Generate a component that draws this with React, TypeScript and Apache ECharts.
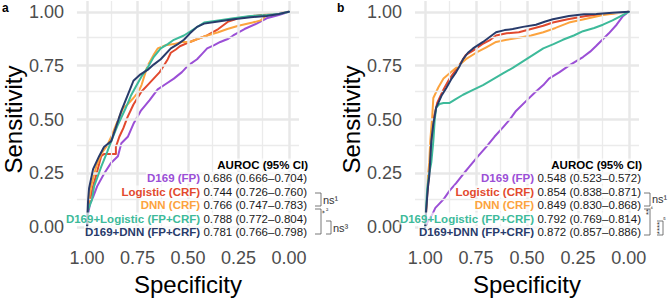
import React, { useEffect, useRef } from "react";
import * as echarts from "echarts";

// ---------- data ----------
const modelNames = ["D169 (FP)", "Logistic (CRF)", "DNN (CRF)", "D169+Logistic (FP+CRF)", "D169+DNN (FP+CRF)"];
const modelColors = ["#9b4fd6", "#e2492d", "#fca33e", "#3dba9a", "#283b6b"];
const aucA = ["0.686 (0.666–0.704)", "0.744 (0.726–0.760)", "0.766 (0.747–0.783)", "0.788 (0.772–0.804)", "0.781 (0.766–0.798)"];
const aucB = ["0.548 (0.523–0.572)", "0.854 (0.838–0.871)", "0.849 (0.830–0.868)", "0.792 (0.769–0.814)", "0.872 (0.857–0.886)"];
const tickValues = [0, 0.25, 0.5, 0.75, 1];
const minorValues = [0.125, 0.375, 0.625, 0.875];

// [specificity, sensitivity]
const purpleA = [[1,0],[0.995,0.06],[0.985,0.11],[0.97,0.14],[0.95,0.19],[0.915,0.25],[0.88,0.3],[0.847,0.33],[0.83,0.39],[0.798,0.42],[0.77,0.48],[0.734,0.54],[0.69,0.59],[0.65,0.64],[0.61,0.665],[0.57,0.69],[0.53,0.72],[0.5,0.75],[0.455,0.78],[0.43,0.805],[0.405,0.83],[0.37,0.845],[0.34,0.86],[0.3,0.875],[0.276,0.89],[0.22,0.92],[0.16,0.945],[0.11,0.97],[0.05,0.985],[0,1]];
const redA = [[1,0],[0.995,0.08],[0.985,0.13],[0.97,0.19],[0.955,0.24],[0.93,0.33],[0.916,0.34],[0.857,0.34],[0.857,0.373],[0.84,0.42],[0.82,0.46],[0.8,0.51],[0.77,0.57],[0.73,0.63],[0.7,0.66],[0.67,0.69],[0.64,0.72],[0.62,0.75],[0.6,0.78],[0.585,0.81],[0.56,0.825],[0.54,0.84],[0.49,0.86],[0.45,0.875],[0.405,0.89],[0.35,0.92],[0.3,0.955],[0.25,0.97],[0.18,0.98],[0.1,0.99],[0,1]];
const orangeA = [[1,0],[0.995,0.1],[0.98,0.19],[0.955,0.28],[0.93,0.34],[0.9,0.38],[0.88,0.42],[0.85,0.49],[0.82,0.555],[0.8,0.57],[0.77,0.6],[0.745,0.63],[0.73,0.66],[0.71,0.72],[0.7,0.75],[0.67,0.8],[0.65,0.83],[0.61,0.845],[0.57,0.85],[0.53,0.86],[0.49,0.86],[0.45,0.875],[0.405,0.89],[0.35,0.905],[0.305,0.92],[0.25,0.935],[0.18,0.95],[0.14,0.96],[0.11,0.985],[0,1]];
const tealA = [[1,0],[0.995,0.08],[0.975,0.13],[0.965,0.19],[0.93,0.28],[0.9,0.35],[0.88,0.4],[0.85,0.47],[0.81,0.55],[0.783,0.61],[0.76,0.65],[0.73,0.7],[0.7,0.74],[0.67,0.79],[0.635,0.83],[0.6,0.85],[0.57,0.87],[0.52,0.89],[0.47,0.92],[0.42,0.95],[0.35,0.96],[0.275,0.97],[0.19,0.98],[0.11,0.985],[0.05,0.99],[0,1]];
const navyA = [[1,0],[0.995,0.12],[0.99,0.18],[0.97,0.27],[0.94,0.33],[0.916,0.373],[0.88,0.4],[0.855,0.47],[0.83,0.54],[0.8,0.61],[0.77,0.68],[0.735,0.71],[0.7,0.73],[0.67,0.755],[0.635,0.78],[0.585,0.83],[0.55,0.85],[0.52,0.87],[0.49,0.9],[0.455,0.93],[0.42,0.945],[0.35,0.955],[0.275,0.965],[0.19,0.975],[0.11,0.98],[0.05,0.99],[0,1]];

const purpleB = [[1,0],[0.985,0.03],[0.965,0.06],[0.95,0.09],[0.93,0.11],[0.91,0.13],[0.88,0.17],[0.848,0.205],[0.815,0.245],[0.784,0.28],[0.74,0.33],[0.7,0.373],[0.66,0.42],[0.618,0.464],[0.585,0.5],[0.554,0.54],[0.5,0.59],[0.456,0.63],[0.42,0.66],[0.392,0.69],[0.34,0.72],[0.294,0.75],[0.26,0.77],[0.225,0.79],[0.19,0.815],[0.162,0.84],[0.13,0.87],[0.098,0.9],[0.06,0.94],[0.029,0.98],[0,1]];
const redB = [[1,0],[0.995,0.08],[0.99,0.15],[0.98,0.25],[0.97,0.4],[0.955,0.52],[0.94,0.58],[0.91,0.64],[0.88,0.69],[0.85,0.73],[0.82,0.77],[0.8,0.8],[0.765,0.82],[0.72,0.85],[0.68,0.87],[0.652,0.89],[0.6,0.9],[0.54,0.905],[0.48,0.92],[0.42,0.935],[0.373,0.95],[0.3,0.965],[0.21,0.98],[0.12,0.99],[0,1]];
const orangeB = [[1,0],[0.995,0.1],[0.99,0.2],[0.98,0.3],[0.975,0.4],[0.965,0.52],[0.96,0.6],[0.935,0.65],[0.91,0.69],[0.88,0.715],[0.848,0.74],[0.8,0.78],[0.75,0.81],[0.7,0.835],[0.652,0.86],[0.6,0.87],[0.54,0.88],[0.48,0.89],[0.42,0.905],[0.36,0.925],[0.294,0.95],[0.22,0.965],[0.127,0.985],[0.06,0.993],[0,1]];
const tealB = [[1,0],[0.995,0.1],[0.99,0.18],[0.98,0.25],[0.97,0.3],[0.96,0.4],[0.953,0.5],[0.946,0.555],[0.93,0.572],[0.91,0.577],[0.88,0.577],[0.85,0.595],[0.814,0.615],[0.77,0.635],[0.716,0.66],[0.67,0.685],[0.618,0.714],[0.57,0.74],[0.52,0.77],[0.47,0.8],[0.42,0.83],[0.37,0.85],[0.324,0.87],[0.27,0.89],[0.225,0.91],[0.17,0.925],[0.127,0.94],[0.08,0.96],[0.03,0.985],[0,1]];
const navyB = [[1,0],[0.995,0.08],[0.99,0.145],[0.985,0.2],[0.98,0.236],[0.975,0.32],[0.97,0.4],[0.96,0.48],[0.946,0.555],[0.92,0.61],[0.897,0.645],[0.87,0.69],[0.848,0.72],[0.83,0.75],[0.814,0.78],[0.79,0.81],[0.765,0.83],[0.716,0.86],[0.68,0.885],[0.652,0.905],[0.61,0.915],[0.57,0.92],[0.52,0.93],[0.456,0.94],[0.41,0.955],[0.373,0.965],[0.294,0.98],[0.22,0.988],[0.16,0.99],[0.08,0.995],[0,1]];

const curvesA = [purpleA, redA, orangeA, tealA, navyA];
const curvesB = [purpleB, redB, orangeB, tealB, navyB];

const FONT = "'Liberation Sans', Arial, Helvetica, sans-serif";

function App() {
  const ref = useRef<HTMLDivElement>(null);
  useEffect(() => {
    if (!ref.current) return;
    const chart = echarts.init(ref.current, null, { renderer: "svg" });

    const grids = [
      { left: 76, top: 1, width: 223, height: 242 },
      { left: 415, top: 1, width: 224, height: 242 },
    ];
    const fmt = (v: number) => v.toFixed(2);
    const xAxes = grids.map((_, i) => ({
      type: "value", gridIndex: i, min: -0.05, max: 1.05, inverse: true,
      axisLine: { show: false }, axisTick: { show: false }, splitLine: { show: false },
      axisLabel: { customValues: tickValues, formatter: fmt, fontSize: 18, color: "#4d4d4d", margin: 11, fontFamily: FONT },
      name: "Specificity", nameLocation: "middle", nameGap: 24,
      nameTextStyle: { fontSize: 24, color: "#000", fontFamily: FONT },
    }));
    const yAxes = grids.map((_, i) => ({
      type: "value", gridIndex: i, min: -0.05, max: 1.05,
      axisLine: { show: false }, axisTick: { show: false }, splitLine: { show: false },
      axisLabel: { customValues: tickValues, formatter: fmt, fontSize: 18, color: "#4d4d4d", margin: 13, fontFamily: FONT },
      name: "Sensitivity", nameLocation: "middle", nameGap: 50,
      nameTextStyle: { fontSize: 24, color: "#000", fontFamily: FONT },
    }));

    const gridLineData: any[] = [];
    minorValues.forEach((v) => {
      gridLineData.push({ xAxis: v, lineStyle: { color: "#ebebeb", width: 1.3, type: "solid" } });
      gridLineData.push({ yAxis: v, lineStyle: { color: "#ebebeb", width: 1.3, type: "solid" } });
    });
    tickValues.forEach((v) => {
      gridLineData.push({ xAxis: v, lineStyle: { color: "#e8e8e8", width: 2.5, type: "solid" } });
      gridLineData.push({ yAxis: v, lineStyle: { color: "#e8e8e8", width: 2.5, type: "solid" } });
    });

    const series: any[] = [];
    [0, 1].forEach((g) => {
      series.push({
        type: "line", xAxisIndex: g, yAxisIndex: g, data: [], z: 0, silent: true,
        markLine: { silent: true, symbol: ["none", "none"], label: { show: false }, data: gridLineData, animation: false },
      });
      const curves = g === 0 ? curvesA : curvesB;
      curves.forEach((c, k) => {
        series.push({
          type: "line", name: modelNames[k], xAxisIndex: g, yAxisIndex: g, data: c,
          showSymbol: false, symbol: "none", z: 2 + k,
          lineStyle: { color: modelColors[k], width: 2, join: "round", cap: "round" },
        });
      });
    });

    const graphics: any[] = [];
    const addRows = (rightX: number, aucs: string[]) => {
      graphics.push({
        type: "text", x: rightX, y: 164.5, z: 100,
        style: { text: "AUROC (95% CI)", fontSize: 11.5, fontWeight: "bold", fontFamily: FONT, fill: "#000", align: "right", verticalAlign: "middle", backgroundColor: "rgba(255,255,255,0.7)" },
      });
      modelNames.forEach((n, k) => {
        graphics.push({
          type: "text", x: rightX, y: 178 + k * 13.5, z: 100,
          style: {
            text: `{n|${n}} {v|${aucs[k]}}`,
            align: "right", verticalAlign: "middle",
            backgroundColor: "rgba(255,255,255,0.7)", padding: [0, 1],
            rich: {
              n: { fontSize: 11.5, fontWeight: "bold", fontFamily: FONT, fill: modelColors[k] },
              v: { fontSize: 11.5, fontFamily: FONT, fill: "#1a1a1a" },
            },
          },
        });
      });
    };
    addRows(308, aucA);
    addRows(642, aucB);

    const bracket = (x0: number, x1: number, y0: number, y1: number) => ({
      type: "polyline", z: 100,
      shape: { points: [[x0, y0], [x1, y0], [x1, y1], [x0, y1]] },
      style: { stroke: "#555", lineWidth: 0.8, fill: "none" },
    });
    const txt = (t: string, x: number, y: number, size: number, rot = 0, align = "left") => ({
      type: "text", x, y, rotation: rot, z: 100,
      style: { text: t, fontSize: size, fontFamily: FONT, fill: "#333", align, verticalAlign: "middle" },
    });
    // panel a
    graphics.push(bracket(315, 321, 193, 206));
    graphics.push(txt("ns¹", 323, 199.5, 11));
    graphics.push(bracket(315, 321, 209, 234));
    graphics.push(txt("*", 324, 212, 8, Math.PI / 2, "center"));
    graphics.push(txt("²", 326, 209, 7));
    graphics.push(bracket(326, 331, 221, 234));
    graphics.push(txt("ns³", 333, 228, 11));
    // panel b
    graphics.push(bracket(644, 650, 193, 206));
    graphics.push(txt("ns¹", 652, 198.5, 11));
    graphics.push(bracket(644, 650, 209, 235));
    graphics.push(txt("**", 648, 212, 8, Math.PI / 2, "center"));
    graphics.push(txt("⁴", 650, 208.5, 7));
    graphics.push(bracket(657, 663, 221, 235));
    graphics.push(txt("****", 659, 228, 8, Math.PI / 2, "center"));
    graphics.push(txt("⁵", 663, 219.5, 7));
    // panel letters
    graphics.push({ type: "text", x: 2, y: 8, z: 100, style: { text: "a", fontSize: 12, fontWeight: "bold", fontFamily: FONT, fill: "#000", verticalAlign: "middle" } });
    graphics.push({ type: "text", x: 337, y: 8, z: 100, style: { text: "b", fontSize: 12, fontWeight: "bold", fontFamily: FONT, fill: "#000", verticalAlign: "middle" } });

    chart.setOption({
      animation: false,
      backgroundColor: "#ffffff",
      grid: grids,
      xAxis: xAxes,
      yAxis: yAxes,
      series,
      graphic: graphics,
    });
    return () => chart.dispose();
  }, []);
  return <div ref={ref} style={{ position: "fixed", left: 0, top: 0, width: 672, height: 301 }} />;
}

export default App;
